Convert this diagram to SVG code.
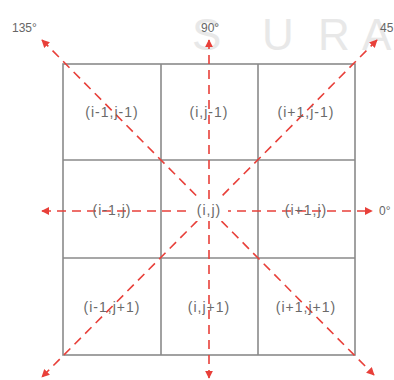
<svg xmlns="http://www.w3.org/2000/svg" width="394" height="380" viewBox="0 0 394 380">
<style>
.grid{fill:none;stroke:#8a8a8a;stroke-width:1.6}
.ray{stroke:#e8403a;stroke-width:1.6;stroke-dasharray:9 6;fill:none}
.lbl{font-family:"Liberation Sans",Arial,sans-serif;font-size:14px;fill:#6a6a6a;text-anchor:middle;letter-spacing:1px}
.ang{font-family:"Liberation Sans",Arial,sans-serif;font-size:12px;fill:#666}
.wm{font-family:"Liberation Sans",Arial,sans-serif;font-size:44px;fill:#e8e8e8}
</style>
<defs>
<marker id="ah" viewBox="0 0 10 10" refX="9" refY="5" markerWidth="5" markerHeight="5" orient="auto-start-reverse" markerUnits="strokeWidth">
<path d="M0,0 L10,5 L0,10 z" fill="#e8403a"/>
</marker>
</defs>
<g id="watermark">
<text class="wm" x="192" y="50">S</text>
<text class="wm" x="262" y="50">U</text>
<text class="wm" x="318" y="50">R</text>
<text class="wm" x="362" y="50">A</text>
</g>
<g id="grid">
<rect class="grid" x="63" y="64" width="292" height="291"/>
<line class="grid" x1="161" y1="64" x2="161" y2="355"/>
<line class="grid" x1="258" y1="64" x2="258" y2="355"/>
<line class="grid" x1="63" y1="160" x2="355" y2="160"/>
<line class="grid" x1="63" y1="258" x2="355" y2="258"/>
</g>
<g id="connectors">
<line class="ray" x1="42" y1="211" x2="372" y2="211" marker-start="url(#ah)" marker-end="url(#ah)"/>
<line class="ray" x1="209" y1="40" x2="209" y2="378" marker-start="url(#ah)" marker-end="url(#ah)"/>
<line class="ray" x1="42" y1="40" x2="374" y2="375" marker-start="url(#ah)" marker-end="url(#ah)"/>
<line class="ray" x1="377" y1="40" x2="42" y2="377" marker-start="url(#ah)" marker-end="url(#ah)"/>
</g>
<g id="c00"><text class="lbl" x="112" y="117">(i-1,j-1)</text></g>
<g id="c10"><text class="lbl" x="209" y="117">(i,j-1)</text></g>
<g id="c20"><text class="lbl" x="306" y="117">(i+1,j-1)</text></g>
<g id="c01"><text class="lbl" x="112" y="215">(i-1,j)</text></g>
<g id="c11"><rect x="190" y="199" width="38" height="22" fill="#fff"/><text class="lbl" x="209" y="215">(i,j)</text></g>
<g id="c21"><text class="lbl" x="306" y="215">(i+1,j)</text></g>
<g id="c02"><text class="lbl" x="112" y="312">(i-1,j+1)</text></g>
<g id="c12"><text class="lbl" x="209" y="312">(i,j+1)</text></g>
<g id="c22"><text class="lbl" x="306" y="312">(i+1,j+1)</text></g>
<g id="angles">
<text class="ang" x="12" y="32">135°</text>
<text class="ang" x="201" y="32">90°</text>
<text class="ang" x="380" y="32">45</text>
<text class="ang" x="379" y="215">0°</text>
</g>
</svg>
